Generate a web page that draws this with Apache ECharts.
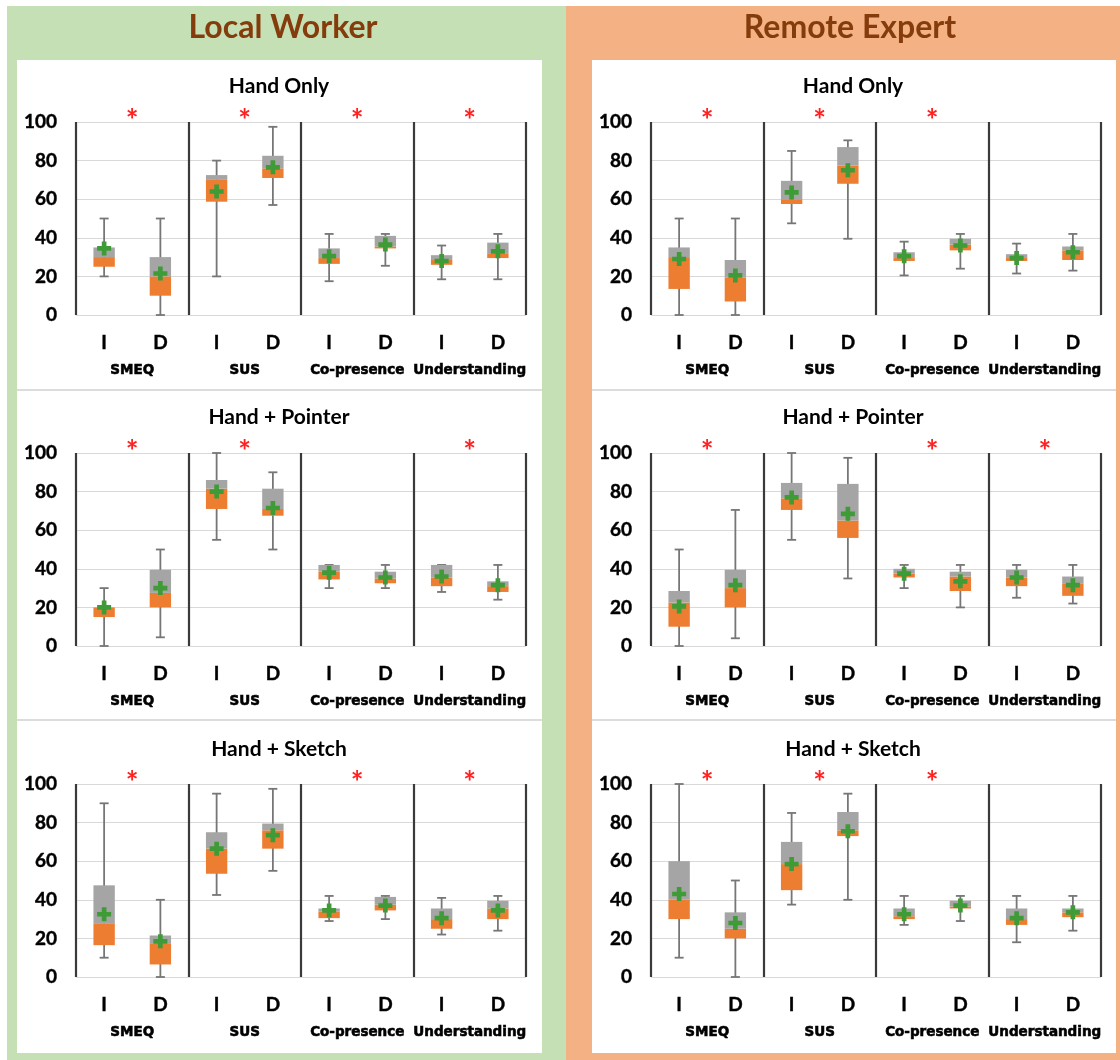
<!DOCTYPE html>
<html><head><meta charset="utf-8">
<script src="https://cdn.jsdelivr.net/npm/echarts@6/dist/echarts.min.js"></script>
<style>html,body{margin:0;padding:0;background:#fff}#c{width:1120px;height:1060px}</style>
</head><body><div id="c"></div>
<script>
// ---------- data ----------
const groupNames = ['SMEQ', 'SUS', 'Co-presence', 'Understanding'];
const conditionLabels = ['I', 'D', 'I', 'D', 'I', 'D', 'I', 'D'];
const yTickValues = [0, 20, 40, 60, 80, 100];
const roleTitles = ['Local Worker', 'Remote Expert'];
const panelTitles = ['Hand Only', 'Hand + Pointer', 'Hand + Sketch'];

// each box: [min, q1, median, q3, max]
const lwHandOnlyBox = [[20,25,30,35,50],[0,10,20,30,50],[20,58.7,70,72.5,80],[57,71,76,82.5,97.5],[17.5,26.5,29.5,34.5,42],[25.5,34.5,35.5,41,42],[18.5,26,28.5,31,36],[18.5,29.5,32,37.5,42]];
const lwHandOnlyMean = [34.5,21.5,64,76.5,30.5,36.5,28,33];
const lwHandOnlySig = [0,1,2,3];

const reHandOnlyBox = [[0,13.5,30,35,50],[0,7,19.5,28.5,50],[47.5,57.5,60,69.5,85],[39.5,68,77.5,87,90.5],[20.5,28,29.5,32.5,38],[24,33.5,36.5,39.5,42],[21.5,28,29.5,31.5,37],[23,28.5,33.5,35.5,42]];
const reHandOnlyMean = [29,20.5,63.5,75,30.5,36,29.5,32.5];
const reHandOnlySig = [0,1,2];

const lwPointerBox = [[0,15,20,20,30],[4.5,20,27.5,39.5,50],[55,71,81.5,86,100],[50,67.5,71,81.5,90],[30,34.5,38.5,42,42],[30,32.5,35,38.5,42],[28,31,35.5,42,42],[24,28,31,33.5,42]];
const lwPointerMean = [20,30,80,71.5,38,35.5,36,31.5];
const lwPointerSig = [0,1,3];

const rePointerBox = [[0,10,22.5,28.5,50],[4,20,30,39.5,70.5],[55,70.5,76.5,84.5,100],[35,56,65,84,97.5],[30,35.5,37.5,40,42],[20,28.5,36,38.5,42],[25,31,35.5,39.5,42],[22,26,32.5,36,42]];
const rePointerMean = [20.5,31.5,77,68.5,37.5,33.5,35.5,31.5];
const rePointerSig = [0,2,3];

const lwSketchBox = [[10,16.5,27.5,47.5,90],[0,6.5,17.5,21.5,40],[42.5,53.5,66.5,75,95],[55,66.5,76,79.5,97.5],[29,30.5,34,35.5,42],[30,34.5,37.5,41.5,42],[22,25,30,35.5,41],[24,30,35.5,39.5,42]];
const lwSketchMean = [32.5,18.5,66.5,73.5,34.5,37,30.5,34.5];
const lwSketchSig = [0,2,3];

const reSketchBox = [[10,30,40,60,100],[0,20,25,33.5,50],[37.5,45,58.5,70,85],[40,73,76,85.5,95],[27,30,31.5,35.5,42],[29,35.5,36.5,39.5,42],[18,27,30,35.5,42],[24,31,33.5,35.5,42]];
const reSketchMean = [43,28,58.5,75.5,32.5,37,30.5,33.5];
const reSketchSig = [0,1,2];

// ---------- layout ----------
const panels = [
  { box: lwHandOnlyBox, mean: lwHandOnlyMean, sig: lwHandOnlySig, col: 0, row: 0 },
  { box: reHandOnlyBox, mean: reHandOnlyMean, sig: reHandOnlySig, col: 1, row: 0 },
  { box: lwPointerBox, mean: lwPointerMean, sig: lwPointerSig, col: 0, row: 1 },
  { box: rePointerBox, mean: rePointerMean, sig: rePointerSig, col: 1, row: 1 },
  { box: lwSketchBox, mean: lwSketchMean, sig: lwSketchSig, col: 0, row: 2 },
  { box: reSketchBox, mean: reSketchMean, sig: reSketchSig, col: 1, row: 2 }
];
const colLeft = [76, 651];
const gridW = 450;
const rowTop = [122, 453, 784];
const gridH = 193;
const titleY = [86, 417, 749];
const titleX = [279, 853];

const ORANGE = '#ED7D31', GREY = '#A5A5A5', WHISK = '#767676', GREEN = '#3E9B37';

function boxRender(params, api) {
  const x = api.value(0);
  const pMin = api.coord([x, api.value(1)]);
  const pQ1 = api.coord([x, api.value(2)]);
  const pMed = api.coord([x, api.value(3)]);
  const pQ3 = api.coord([x, api.value(4)]);
  const pMax = api.coord([x, api.value(5)]);
  const bw = api.size([1, 0])[0] * 0.38;
  const cw = 9;
  const cx = pMed[0];
  const ln = { stroke: WHISK, lineWidth: 1.8 };
  return {
    type: 'group',
    children: [
      { type: 'line', shape: { x1: cx, y1: pMin[1], x2: cx, y2: pMax[1] }, style: ln },
      { type: 'line', shape: { x1: cx - cw / 2, y1: pMax[1], x2: cx + cw / 2, y2: pMax[1] }, style: ln },
      { type: 'line', shape: { x1: cx - cw / 2, y1: pMin[1], x2: cx + cw / 2, y2: pMin[1] }, style: ln },
      { type: 'rect', shape: { x: cx - bw / 2, y: pMed[1], width: bw, height: pQ1[1] - pMed[1] }, style: { fill: ORANGE } },
      { type: 'rect', shape: { x: cx - bw / 2, y: pQ3[1], width: bw, height: pMed[1] - pQ3[1] }, style: { fill: GREY } }
    ]
  };
}

function sigRender(params, api) {
  const p = api.coord([api.value(0), api.value(1)]);
  return {
    type: 'text',
    x: p[0], y: p[1] - 1,
    style: { text: '*', fill: '#FF2020', font: 'bold 30px Lato', align: 'center', verticalAlign: 'middle' }
  };
}

const grid = [], xAxis = [], yAxis = [], series = [];
panels.forEach((p, i) => {
  grid.push({ left: colLeft[p.col], top: rowTop[p.row], width: gridW, height: gridH });
  xAxis.push({
    type: 'category', gridIndex: i, data: conditionLabels,
    axisLine: { show: false }, axisTick: { show: false }, splitLine: { show: false },
    axisLabel: { margin: 18, fontFamily: 'Lato', fontWeight: 'bold', fontSize: 19, color: '#000',
      textBorderColor: '#000', textBorderWidth: 0.4 }
  });
  xAxis.push({
    type: 'category', gridIndex: i, data: groupNames, position: 'bottom', offset: 41,
    axisLine: { show: false }, axisTick: { show: false },
    splitLine: { show: true, interval: 0, lineStyle: { color: '#3A3A3A', width: 2.2 } },
    axisLabel: { margin: 7, interval: 0, fontFamily: 'DejaVu Sans', fontWeight: 'bold', fontSize: 13.5, color: '#000',
      textBorderColor: '#000', textBorderWidth: 0.6 }
  });
  yAxis.push({
    type: 'value', gridIndex: i, min: yTickValues[0], max: yTickValues[yTickValues.length - 1], interval: 20,
    axisLine: { show: false }, axisTick: { show: false },
    splitLine: { show: true, lineStyle: { color: '#D9D9D9', width: 1 } },
    axisLabel: { margin: 19, fontFamily: 'Lato', fontWeight: 'bold', fontSize: 19, color: '#000',
      textBorderColor: '#000', textBorderWidth: 0.4 }
  });
  series.push({
    type: 'custom', xAxisIndex: 2 * i, yAxisIndex: i, renderItem: boxRender,
    data: p.box.map((b, k) => [k].concat(b)), encode: { x: 0, y: [1, 2, 3, 4, 5] }, z: 3
  });
  series.push({
    type: 'scatter', xAxisIndex: 2 * i, yAxisIndex: i,
    symbol: 'path://M4,0H8V4H12V8H8V12H4V8H0V4H4Z', symbolSize: 14,
    itemStyle: { color: GREEN, opacity: 1 }, z: 5,
    data: p.mean.map((m, k) => [k, m])
  });
  series.push({
    type: 'custom', xAxisIndex: 2 * i + 1, yAxisIndex: i, renderItem: sigRender,
    data: p.sig.map(g => [g, 100]), z: 6, clip: false
  });
});

const graphic = [
  { type: 'rect', shape: { x: 7, y: 6, width: 559, height: 1054 }, style: { fill: '#C5E0B4' }, z: -10 },
  { type: 'rect', shape: { x: 566, y: 6, width: 554, height: 1054 }, style: { fill: '#F4B183' }, z: -10 },
  { type: 'rect', shape: { x: 17, y: 60, width: 525, height: 993 }, style: { fill: '#FFFFFF' }, z: -9 },
  { type: 'rect', shape: { x: 592, y: 60, width: 524, height: 993 }, style: { fill: '#FFFFFF' }, z: -9 },
  { type: 'line', shape: { x1: 17, y1: 390, x2: 542, y2: 390 }, style: { stroke: '#D0D0D0', lineWidth: 1.5 }, z: -8 },
  { type: 'line', shape: { x1: 17, y1: 720, x2: 542, y2: 720 }, style: { stroke: '#D0D0D0', lineWidth: 1.5 }, z: -8 },
  { type: 'line', shape: { x1: 592, y1: 390, x2: 1116, y2: 390 }, style: { stroke: '#D0D0D0', lineWidth: 1.5 }, z: -8 },
  { type: 'line', shape: { x1: 592, y1: 720, x2: 1116, y2: 720 }, style: { stroke: '#D0D0D0', lineWidth: 1.5 }, z: -8 },
  { type: 'text', x: 283, y: 28, style: { text: roleTitles[0], font: 'bold 32px Lato', fill: '#843C0C', align: 'center', verticalAlign: 'middle' } },
  { type: 'text', x: 850, y: 28, style: { text: roleTitles[1], font: 'bold 32px Lato', fill: '#843C0C', align: 'center', verticalAlign: 'middle' } }
];
[0, 1].forEach(c => {
  panelTitles.forEach((t, r) => {
    graphic.push({ type: 'text', x: titleX[c], y: titleY[r], style: { text: t, font: 'bold 21px Lato', fill: '#000', align: 'center', verticalAlign: 'middle' } });
  });
});

const chart = echarts.init(document.getElementById('c'), null, { renderer: 'canvas' });
chart.setOption({
  animation: false,
  backgroundColor: '#FFFFFF',
  graphic: graphic,
  grid: grid, xAxis: xAxis, yAxis: yAxis, series: series
});
</script></body></html>
